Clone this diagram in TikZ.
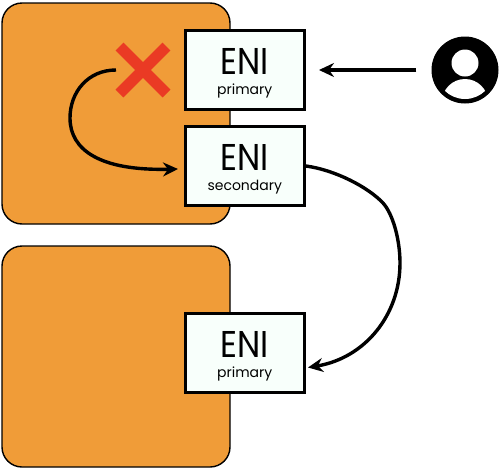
\documentclass[tikz,border=0pt]{standalone}
\usepackage{fontspec}
\usepackage{graphicx}
\setmainfont{Poppins}
\usetikzlibrary{arrows.meta,shapes.misc}
\definecolor{instorange}{HTML}{F09C38}
\definecolor{enifill}{HTML}{F8FFFB}
\definecolor{crossred}{HTML}{EA3A24}
\tikzset{
  instbox/.style={draw=black,fill=instorange,line width=1.4pt,rounded corners=20pt,minimum width=228pt,minimum height=221pt,inner sep=0pt},
  enibox/.style={draw=black,fill=enifill,line width=3pt,minimum width=119.5pt,minimum height=79pt,inner sep=0pt,align=center},
  flow/.style={line width=3.4pt,-{Stealth[length=15pt,width=14pt,inset=5pt]}},
}
\newcommand{\eni}[1]{\rule{0pt}{33pt}\scalebox{1}[1.13]{\fontsize{33}{33}\selectfont ENI}\\[8pt]{\fontsize{14}{14}\selectfont #1}}
\begin{document}
\begin{tikzpicture}[x=1pt,y=-1pt]
  \useasboundingbox (0,0) rectangle (499,469);
  \node [instbox] (inst1) at (116,113.5) {};
  \node [instbox] (inst2) at (116,356.5) {};
  \node [enibox] (eni1) at (244.75,70) {\eni{primary}};
  \node [enibox] (eni2) at (244.75,166) {\eni{secondary}};
  \node [enibox] (eni3) at (244.75,353) {\eni{primary}};
  \node [cross out,draw=crossred,line width=11pt,minimum size=47pt,inner sep=0pt,outer sep=0pt] (fail) at (143,70) {};
  \node [circle,fill=black,minimum size=67pt,inner sep=0pt] (user) at (465,70) {};
  \node [circle,fill=white,minimum size=27pt,inner sep=0pt] (head) at (465,63) {};
  \begin{scope}
    \clip (user.center) circle (29pt);
    \node [circle,fill=white,minimum size=46pt,inner sep=0pt] (body) at (465,102) {};
  \end{scope}
  \coordinate (start) at (116,70);
  \coordinate (retry) at (178,169);
  \coordinate (moved) at (308,367.5);
  \draw [flow,shorten <=15pt,shorten >=13pt] (user) -- (eni1);
  \draw [flow] (start) .. controls (88,70) and (70,92) .. (70,118) .. controls (70,150) and (100,171) .. (retry);
  \draw [flow] (eni2.east) .. controls (335,170) and (368,187) .. (383,203) .. controls (393,214) and (400,240) .. (400,263) .. controls (400,315) and (365,358) .. (moved);
\end{tikzpicture}
\end{document}
